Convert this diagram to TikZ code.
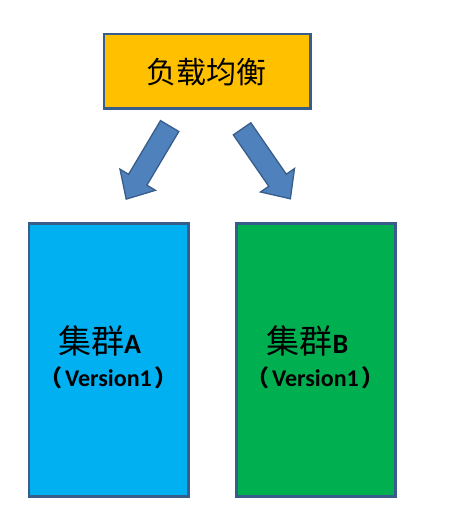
\documentclass[tikz,border=0pt]{standalone}
\usepackage{fontspec}
\setmainfont{Carlito}
\newfontfamily\cjk{Noto Sans CJK SC}
\usetikzlibrary{shapes.arrows}
\definecolor{edgeblue}{HTML}{385D8A}
\definecolor{arrowblue}{HTML}{4F81BD}
\definecolor{lborange}{HTML}{FFC000}
\definecolor{clustA}{HTML}{00B0F0}
\definecolor{clustB}{HTML}{00B050}
\tikzset{
  box/.style={draw=edgeblue, line width=2.5pt, rectangle, inner sep=0pt},
  blockarrow/.style={single arrow, draw=edgeblue, fill=arrowblue, line width=1.3pt,
    inner xsep=0pt, inner ysep=10pt, single arrow head extend=10pt,
    single arrow tip angle=85, minimum height=85pt, anchor=tail},
  lbl/.style={inner sep=0pt, text=black},
  vline/.style={lbl, font=\fontsize{24}{26}\selectfont\bfseries}
}
\newcommand{\cjkpar}[1]{{\cjk\fontsize{23}{26}\selectfont #1}}
\begin{document}
\begin{tikzpicture}[x=1pt,y=-1pt]
\useasboundingbox (0,0) rectangle (461,521);
\node[box, fill=lborange, minimum width=206.5pt, minimum height=74.5pt] (lb) at (207.25,71.25) {};
\node[box, fill=clustA, minimum width=159.5pt, minimum height=273pt] (ca) at (108.75,360) {};
\node[box, fill=clustB, minimum width=159pt, minimum height=273pt] (cb) at (316,360) {};
\node[lbl, font=\cjk\fontsize{30}{32}\selectfont] (lbt) at (206,72) {负载均衡};
\node[lbl] (cat) at (99.5,341) {{\cjk\fontsize{33}{35}\selectfont 集群}{\fontsize{28}{30}\selectfont\bfseries A}};
\node[vline] (cav) at (108.5,378) {\cjkpar{（}\hspace{3pt}Version1\hspace{3pt}\cjkpar{）}};
\node[lbl] (cbt) at (307.5,341) {{\cjk\fontsize{33}{35}\selectfont 集群}{\fontsize{28}{30}\selectfont\bfseries B}};
\node[vline] (cbv) at (315.5,378) {\cjkpar{（}\hspace{3pt}Version1\hspace{3pt}\cjkpar{）}};
\node[blockarrow, rotate=-120.75] (la) at (170,125.5) {};
\node[blockarrow, rotate=-55.4] (ra) at (241.7,128.3) {};
\end{tikzpicture}
\end{document}
